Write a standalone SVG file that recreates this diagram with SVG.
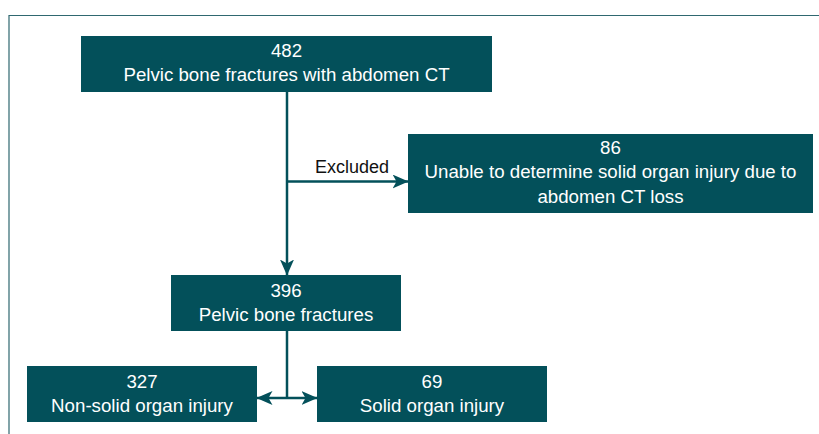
<svg xmlns="http://www.w3.org/2000/svg" width="819" height="434" viewBox="0 0 819 434">
<style>
.box{fill:#03505a}
.t{font-family:"Liberation Sans",Arial,sans-serif;font-size:18.7px;fill:#fff;text-anchor:middle}
.l{font-family:"Liberation Sans",Arial,sans-serif;font-size:18px;fill:#111;text-anchor:middle}
.c{stroke:#03505a;stroke-width:2.5;fill:none}
</style>
<defs>
<marker id="ahs" viewBox="0 0 16 14" refX="15.5" refY="7" markerWidth="16" markerHeight="14" orient="auto-start-reverse" markerUnits="userSpaceOnUse">
<path d="M0,0 L16,7 L0,14 L4,7 Z" fill="#03505a"/>
</marker>
</defs>
<rect width="819" height="434" fill="#fff"/>
<path d="M9,434 V15.5 H819" stroke="#2f6870" stroke-width="1.2" fill="none"/>
<g id="connectors">
<path class="c" d="M287,92 V275" marker-end="url(#ahs)"/>
<path class="c" d="M287,181.5 H408" marker-end="url(#ahs)"/>
<text class="l" x="352" y="173">Excluded</text>
<path class="c" d="M287,331 V398"/>
<path class="c" d="M257,398 H317" marker-start="url(#ahs)" marker-end="url(#ahs)"/>
</g>
<g id="n1"><rect class="box" x="81" y="36" width="411" height="56"/>
<text class="t" x="286.5" y="57">482</text><text class="t" x="286.5" y="81">Pelvic bone fractures with abdomen CT</text></g>
<g id="n2"><rect class="box" x="408" y="134" width="405" height="79"/>
<text class="t" x="610.5" y="154">86</text><text class="t" x="610.5" y="178">Unable to determine solid organ injury due to</text><text class="t" x="610.5" y="203">abdomen CT loss</text></g>
<g id="n3"><rect class="box" x="171" y="275" width="230" height="56"/>
<text class="t" x="286" y="297">396</text><text class="t" x="286" y="321">Pelvic bone fractures</text></g>
<g id="n4"><rect class="box" x="27" y="366" width="230" height="56"/>
<text class="t" x="142" y="388">327</text><text class="t" x="142" y="412">Non-solid organ injury</text></g>
<g id="n5"><rect class="box" x="317" y="366" width="230" height="56"/>
<text class="t" x="432" y="388">69</text><text class="t" x="432" y="412">Solid organ injury</text></g>
</svg>
